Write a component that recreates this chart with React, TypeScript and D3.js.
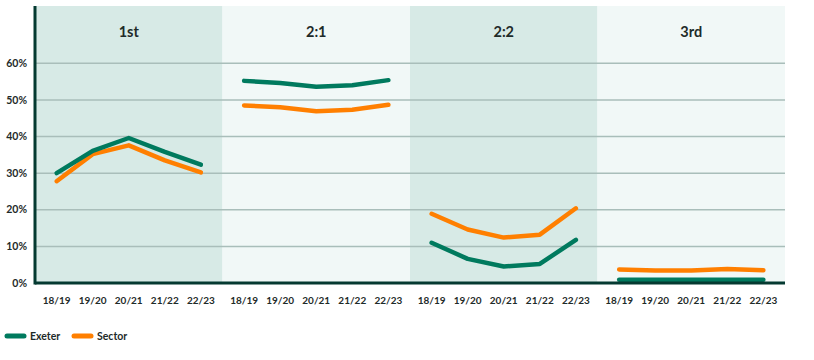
import React from "react";
import * as d3 from "d3";

const panels = ["1st", "2:1", "2:2", "3rd"];
const years = ["18/19", "19/20", "20/21", "21/22", "22/23"];
const yTicks = [0, 10, 20, 30, 40, 50, 60];

const exeter = [
  [30.0, 36.1, 39.6, 35.8, 32.3],
  [55.2, 54.6, 53.6, 54.0, 55.4],
  [11.0, 6.6, 4.5, 5.2, 11.8],
  [0.9, 0.9, 0.9, 0.9, 0.9],
];
const sector = [
  [27.8, 35.2, 37.6, 33.5, 30.2],
  [48.5, 48.0, 46.9, 47.3, 48.7],
  [18.9, 14.6, 12.4, 13.2, 20.4],
  [3.7, 3.4, 3.4, 3.8, 3.5],
];

const seriesNames = ["Exeter", "Sector"];
const seriesColors = ["#007A5E", "#FF7F00"];

export default function App() {
  const W = 814, H = 360;
  const left = 35, right = 785, top = 6, bottom = 283;
  const y = d3.scaleLinear().domain([0, 60]).range([bottom, 63.3]);
  const px = d3.scaleBand().domain(panels).range([left, right]).padding(0);
  const font = "Lato, 'Open Sans', sans-serif";
  const textColor = "#1E2B29";
  const line = (xs: d3.ScalePoint<string>) =>
    d3.line<number>().x((_, i) => xs(years[i]) as number).y((d) => y(d));

  return (
    <svg width={W} height={H} style={{ position: "absolute", left: 0, top: 0 }} fontFamily={font}>
      {panels.map((p, i) => (
        <rect key={p} x={px(p)} y={top} width={px.bandwidth()} height={bottom - top}
          fill={i % 2 === 0 ? "#D7EAE6" : "#F1F8F7"} />
      ))}
      {yTicks.filter((t) => t > 0).map((t) => (
        <line key={t} x1={left} x2={right} y1={y(t)} y2={y(t)} stroke="#A9BEBA" strokeWidth={1.5} />
      ))}
      {yTicks.map((t) => (
        <text key={t} x={27} y={y(t)} dy="0.35em" textAnchor="end" fontSize={10.5} fontWeight={700} fill={textColor}>
          {t}%
        </text>
      ))}
      {panels.map((p, i) => {
        const x0 = px(p) as number;
        const xs = d3.scalePoint<string>().domain(years).range([x0, x0 + px.bandwidth()]).padding(0.6);
        return (
          <g key={p}>
            <text x={x0 + px.bandwidth() / 2} y={32} dy="0.35em" textAnchor="middle" fontSize={14.5} fontWeight={700} fill={textColor}>
              {p}
            </text>
            {years.map((yr) => (
              <text key={yr} x={xs(yr)} y={300} dy="0.35em" textAnchor="middle" fontSize={10} fontWeight={700} fill={textColor}>
                {yr}
              </text>
            ))}
            <path d={line(xs)(sector[i]) as string} fill="none" stroke={seriesColors[1]} strokeWidth={4.5} strokeLinecap="round" strokeLinejoin="round" />
            <path d={line(xs)(exeter[i]) as string} fill="none" stroke={seriesColors[0]} strokeWidth={4.5} strokeLinecap="round" strokeLinejoin="round" />
          </g>
        );
      })}
      <line x1={left} x2={left} y1={top} y2={bottom + 1.5} stroke="#053A31" strokeWidth={3} />
      <line x1={left} x2={right} y1={bottom} y2={bottom} stroke="#053A31" strokeWidth={3} />
      {seriesNames.map((s, i) => {
        const lx = 7 + i * 67;
        return (
          <g key={s}>
            <line x1={lx} x2={lx + 17} y1={336} y2={336} stroke={seriesColors[i]} strokeWidth={5} strokeLinecap="round" />
            <text x={lx + 23} y={336} dy="0.35em" fontSize={10.5} fontWeight={700} fill={textColor}>{s}</text>
          </g>
        );
      })}
    </svg>
  );
}
